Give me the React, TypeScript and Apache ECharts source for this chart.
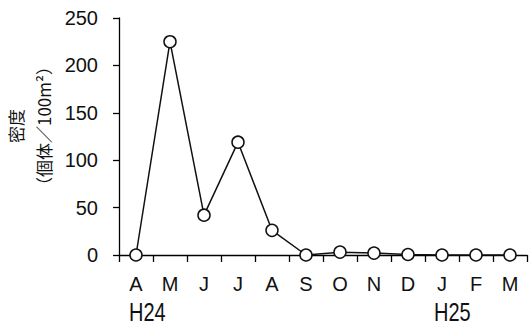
import React, { useEffect, useRef } from "react";
import * as echarts from "echarts";

const months = ["A", "M", "J", "J", "A", "S", "O", "N", "D", "J", "F", "M"];
const density = [0, 225, 42, 119, 26, 0, 3, 2, 0.5, 0, 0, 0];
const yTicks = { min: 0, max: 250, interval: 50 };
const yearLabels = ["H24", "H25"];
const yName1 = "密度";
const yName2 = "（個体／100m²）";

const FONT = '"Liberation Sans", Arial, "Noto Sans CJK JP", sans-serif';
const CJK = '"Noto Sans CJK JP", "Liberation Sans", sans-serif';

export default function App() {
  const ref = useRef<HTMLDivElement>(null);
  useEffect(() => {
    if (!ref.current) return;
    const chart = echarts.init(ref.current, undefined, { renderer: "svg" });
    chart.setOption({
      animation: false,
      backgroundColor: "#fff",
      grid: { left: 119, right: 2, top: 18, bottom: 72, containLabel: false },
      xAxis: {
        type: "category",
        data: months,
        boundaryGap: true,
        axisLine: { lineStyle: { color: "#000", width: 1.3 } },
        axisTick: { show: true, length: 7, alignWithLabel: false, lineStyle: { color: "#000", width: 1.3 } },
        axisLabel: { color: "#111", fontSize: 20, fontFamily: FONT, margin: 19, interval: 0 },
        splitLine: { show: false },
      },
      yAxis: {
        type: "value",
        min: yTicks.min,
        max: yTicks.max,
        interval: yTicks.interval,
        axisLine: { show: true, lineStyle: { color: "#000", width: 1.3 } },
        axisTick: { show: true, length: 6, lineStyle: { color: "#000", width: 1.3 } },
        axisLabel: { color: "#111", fontSize: 20, fontFamily: FONT, margin: 21 },
        splitLine: { show: false },
      },
      graphic: [
        {
          type: "text",
          x: 29,
          y: 126,
          rotation: Math.PI / 2,
          style: {
            text: yName1 + "\n" + yName2,
            font: `17px ${CJK}`,
            lineHeight: 28,
            fill: "#111",
            align: "center",
            verticalAlign: "middle",
          },
        },
        {
          type: "text",
          x: 129,
          y: 312,
          scaleY: 1.3,
          style: { text: yearLabels[0], font: `20px ${FONT}`, fill: "#111", align: "left", verticalAlign: "middle" },
        },
        {
          type: "text",
          x: 434,
          y: 312,
          scaleY: 1.3,
          style: { text: yearLabels[1], font: `20px ${FONT}`, fill: "#111", align: "left", verticalAlign: "middle" },
        },
      ],
      series: [
        {
          type: "line",
          data: density,
          symbol: "circle",
          symbolSize: 12,
          lineStyle: { color: "#111", width: 1.5 },
          itemStyle: { color: "#fff", borderColor: "#111", borderWidth: 1.5 },
        },
      ],
    });
    return () => chart.dispose();
  }, []);
  return <div ref={ref} style={{ width: 529, height: 327, position: "absolute", left: 0, top: 0 }} />;
}
